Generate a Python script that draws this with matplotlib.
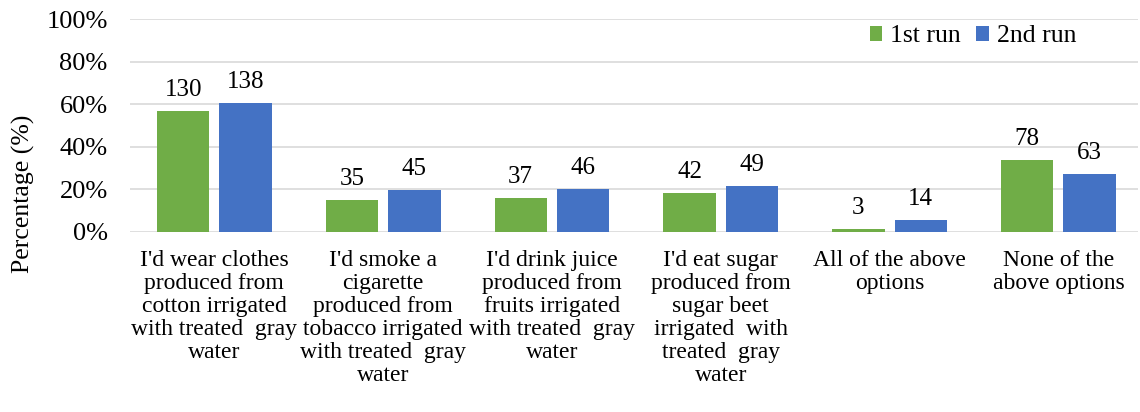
import matplotlib
matplotlib.use("Agg")
import matplotlib.pyplot as plt
import numpy as np

plt.rcParams['font.family'] = ['Liberation Serif', 'DejaVu Serif']

categories = [
    "I'd wear clothes\nproduced from\ncotton irrigated\nwith treated  gray\nwater",
    "I'd smoke a\ncigarette\nproduced from\ntobacco irrigated\nwith treated  gray\nwater",
    "I'd drink juice\nproduced from\nfruits irrigated\nwith treated  gray\nwater",
    "I'd eat sugar\nproduced from\nsugar beet\nirrigated  with\ntreated  gray\nwater",
    "All of the above\noptions",
    "None of the\nabove options",
]
run1_pct = [56.8, 15.0, 16.0, 18.3, 1.3, 33.9]
run2_pct = [60.6, 19.7, 20.2, 21.5, 5.6, 27.3]
run1_n = [130, 35, 37, 42, 3, 78]
run2_n = [138, 45, 46, 49, 14, 63]

green = '#70AD47'
blue = '#4472C4'

fig = plt.figure(figsize=(11.4, 4.12), dpi=100)
ax = fig.add_axes([0.114, 0.4376, 0.884, 0.5155])

x = np.arange(len(categories))
w = 0.31
b1 = ax.bar(x - 0.185, run1_pct, w, color=green, label='1st run', zorder=3)
b2 = ax.bar(x + 0.185, run2_pct, w, color=blue, label='2nd run', zorder=3)

for bars, counts in [(b1, run1_n), (b2, run2_n)]:
    for r, n in zip(bars, counts):
        ax.annotate(str(n), (r.get_x() + r.get_width() / 2, r.get_height()),
                    xytext=(0, 7), textcoords='offset points',
                    ha='center', va='bottom', fontsize=18)

ax.set_ylim(0, 100)
ax.set_xlim(-0.5, 5.47)
ax.set_yticks(range(0, 101, 20))
ax.set_yticklabels([f'{v}%' for v in range(0, 101, 20)], fontsize=19)
ax.set_xticks(x)
ax.set_xticklabels(categories, fontsize=17, linespacing=1.13)
ax.tick_params(length=0, pad=13)
ax.tick_params(axis='y', pad=16)
ax.grid(axis='y', color='#D9D9D9', linewidth=1.2, zorder=0)
for s in ax.spines.values():
    s.set_visible(False)
ax.set_ylabel('Percentage (%)', fontsize=18.5)
ax.yaxis.set_label_coords(-0.094, 0.18)

ax.legend(loc='upper right', bbox_to_anchor=(0.962, 1.08), ncol=2, frameon=False,
          fontsize=18.5, handlelength=0.5, handleheight=0.5, handletextpad=0.3,
          columnspacing=0.6)

fig.savefig('out.png', dpi=100)
